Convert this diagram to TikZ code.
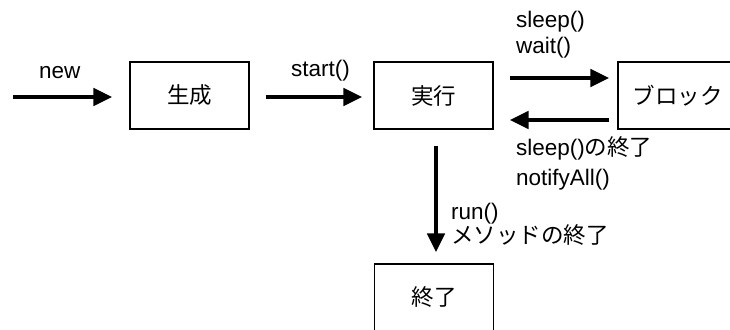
\documentclass[tikz,border=0pt]{standalone}
\usepackage{fontspec}
\setmainfont{Liberation Sans}
\newfontfamily\jp{Noto Sans CJK JP}
\usetikzlibrary{arrows.meta,calc}
\tikzset{
  state/.style={draw=black,line width=1.3pt,minimum width=119pt,minimum height=67pt,inner sep=0pt,font=\jp\fontsize{22.5}{25}\selectfont},
  arr/.style={line width=4.5pt,-{Triangle[length=19pt,width=17pt]}},
  lbl/.style={inner sep=0pt,align=left,font=\fontsize{22.5}{25}\selectfont},
}
\begin{document}
\begin{tikzpicture}[x=1pt,y=-1pt]
\useasboundingbox (0,0) rectangle (730,329);
\fill[white] (0,0) rectangle (730,329);
\clip (0,0) rectangle (730,329);
% states
\node[state] (gen) at (189.5,95.5) {生成};
\node[state] (exe) at (433.5,95.5) {実行};
\node[state] (blk) at (677.5,95.5) {ブロック};
\node[state] (fin) at (434,297.5) {終了};
% connectors
\coordinate (newstart) at (13,97);
\draw[arr,shorten >=17pt] (newstart) -- (newstart -| gen.west);
\draw[arr,shorten <=16pt,shorten >=11pt] ($(gen.east)+(0,1.5)$) -- ($(exe.west)+(0,1.5)$);
\draw[arr,shorten <=16pt,shorten >=8pt] ($(exe.east)+(0,-17.5)$) -- ($(blk.west)+(0,-17.5)$);
\draw[arr,shorten <=8pt,shorten >=16pt] ($(blk.west)+(0,24.5)$) -- ($(exe.east)+(0,24.5)$);
\draw[arr,shorten <=16pt,shorten >=11pt] ($(exe.south)+(2.5,0)$) -- ($(fin.north)+(2,0)$);
% labels (base anchor = baseline of the last line)
\node[lbl,anchor=base west] (lnew) at (39,78) {new};
\node[lbl,anchor=base west] (lstart) at (291,77) {start()};
\node[lbl,anchor=base west] (lsleep) at (516,53) {sleep()\\wait()};
\node[lbl,anchor=base west] (lwake) at (516,185) {sleep(){\jp の終了}\\[5pt]notifyAll()};
\node[lbl,anchor=base west] (lrun) at (451,243) {run()\\[-1pt]{\jp メソッドの終了}};
\end{tikzpicture}
\end{document}
